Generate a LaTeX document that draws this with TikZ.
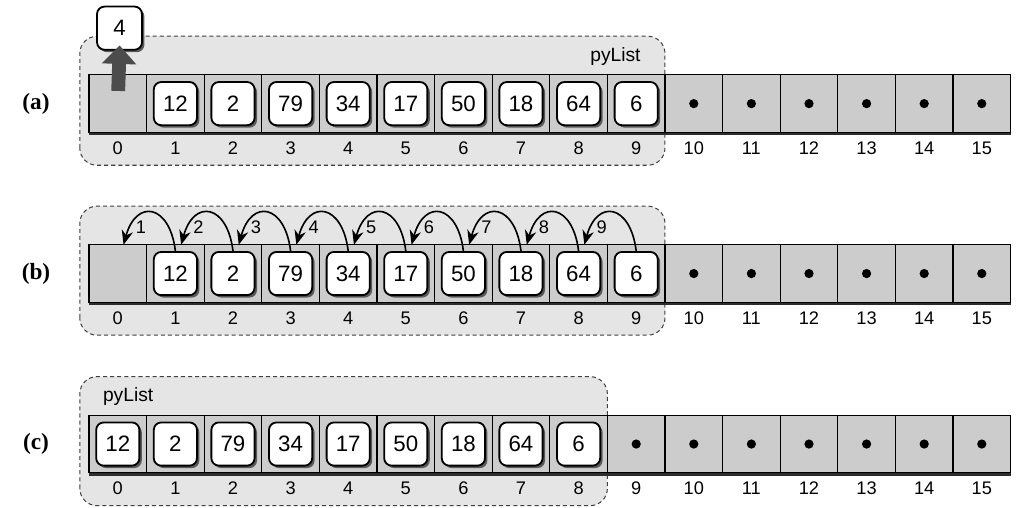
\documentclass[tikz,border=0pt]{standalone}
\usepackage{fontspec}
\setmainfont{Liberation Sans}
\newfontfamily\tagfont{Liberation Serif}
\usepackage{tikz}
\usetikzlibrary{arrows.meta,shadows,positioning}

\tikzset{
  cell/.style={draw=black, line width=0.6pt, fill=gray!40, minimum size=1cm, inner sep=0pt, outer sep=0pt},
  val/.style={draw=black, line width=0.9pt, fill=white, rounded corners=0.13cm, minimum size=0.75cm, inner sep=0pt,
    font=\fontsize{11}{13}\selectfont,
    drop shadow={shadow xshift=1.2pt, shadow yshift=-1.2pt, fill=gray!70!black, opacity=1}},
  idx/.style={font=\fontsize{9}{10}\selectfont, inner sep=0pt},
  region/.style={draw=black!75, dash pattern=on 2pt off 1.5pt, fill=gray!20, rounded corners=0.3cm, line width=0.5pt},
  nulldot/.style={circle, fill=black, inner sep=0pt, minimum size=0.16cm},
  tag/.style={font=\tagfont\bfseries\fontsize{11.5}{13}\selectfont},
  rowshadow/.style={fill=gray!35!black},
  shift arrow/.style={line width=0.8pt, -{Stealth[length=0.25cm, width=0.2cm]}},
}

\begin{document}
\begin{tikzpicture}
\useasboundingbox (-1.545,0) rectangle (16.146,8.819);

\draw [region] (-0.16,5.95) rectangle (10,8.19);
\draw [region] (-0.16,3.0) rectangle (10,5.24);
\draw [region] (-0.16,0.04) rectangle (9,2.28);

\fill [rowshadow] (0,6.47) rectangle (16,7.47);
\fill [rowshadow] (0,3.52) rectangle (16,4.52);
\fill [rowshadow] (0,0.56) rectangle (16,1.56);

\foreach \i in {0,...,15} {
  \node [cell] (a\i) at (\i+0.5,7.02) {};
  \node [cell] (b\i) at (\i+0.5,4.07) {};
  \node [cell] (c\i) at (\i+0.5,1.11) {};
  \node [idx] (ai\i) at ([yshift=-0.27cm]a\i.south) {\i};
  \node [idx] (bi\i) at ([yshift=-0.27cm]b\i.south) {\i};
  \node [idx] (ci\i) at ([yshift=-0.27cm]c\i.south) {\i};
}

\foreach \v [count=\i] in {12,2,79,34,17,50,18,64,6} {
  \node [val] (av\i) at (a\i) {\v};
  \node [val] (bv\i) at (b\i) {\v};
}
\foreach \v [count=\i from 0] in {12,2,79,34,17,50,18,64,6}
  \node [val] (cv\i) at (c\i) {\v};

\foreach \i in {10,...,15} {
  \node [nulldot] (ad\i) at (a\i) {};
  \node [nulldot] (bd\i) at (b\i) {};
}
\foreach \i in {9,...,15}
  \node [nulldot] (cd\i) at (c\i) {};

\node [tag] (taga) at (-0.92,7.02) {(a)};
\node [tag] (tagb) at (-0.92,4.07) {(b)};
\node [tag] (tagc) at (-0.92,1.11) {(c)};

\node [font=\fontsize{9.5}{11}\selectfont, anchor=east] (lista) at (9.7,7.84) {pyList};
\node [font=\fontsize{9.5}{11}\selectfont, anchor=west] (listc) at (0.12,1.93) {pyList};

\node [val, minimum width=0.78cm] (popped) at (0.53,8.33) {4};
\draw [black!70, line width=0.24cm, -{Triangle[width=0.58cm, length=0.32cm]},
  shorten <=0.22cm, shorten >=-0.09cm] (a0.center) -- (popped.south);

\foreach \k [count=\j from 0] in {1,...,9} {
  \draw [shift arrow] (bv\k.north) .. controls +(-0.1,0.82) and +(0.22,0.8) .. ([xshift=0.1cm]b\j.north);
  \node [idx] (bn\k) at ([shift={(0.4,0.3)}]b\j.north) {\k};
}

\end{tikzpicture}
\end{document}
